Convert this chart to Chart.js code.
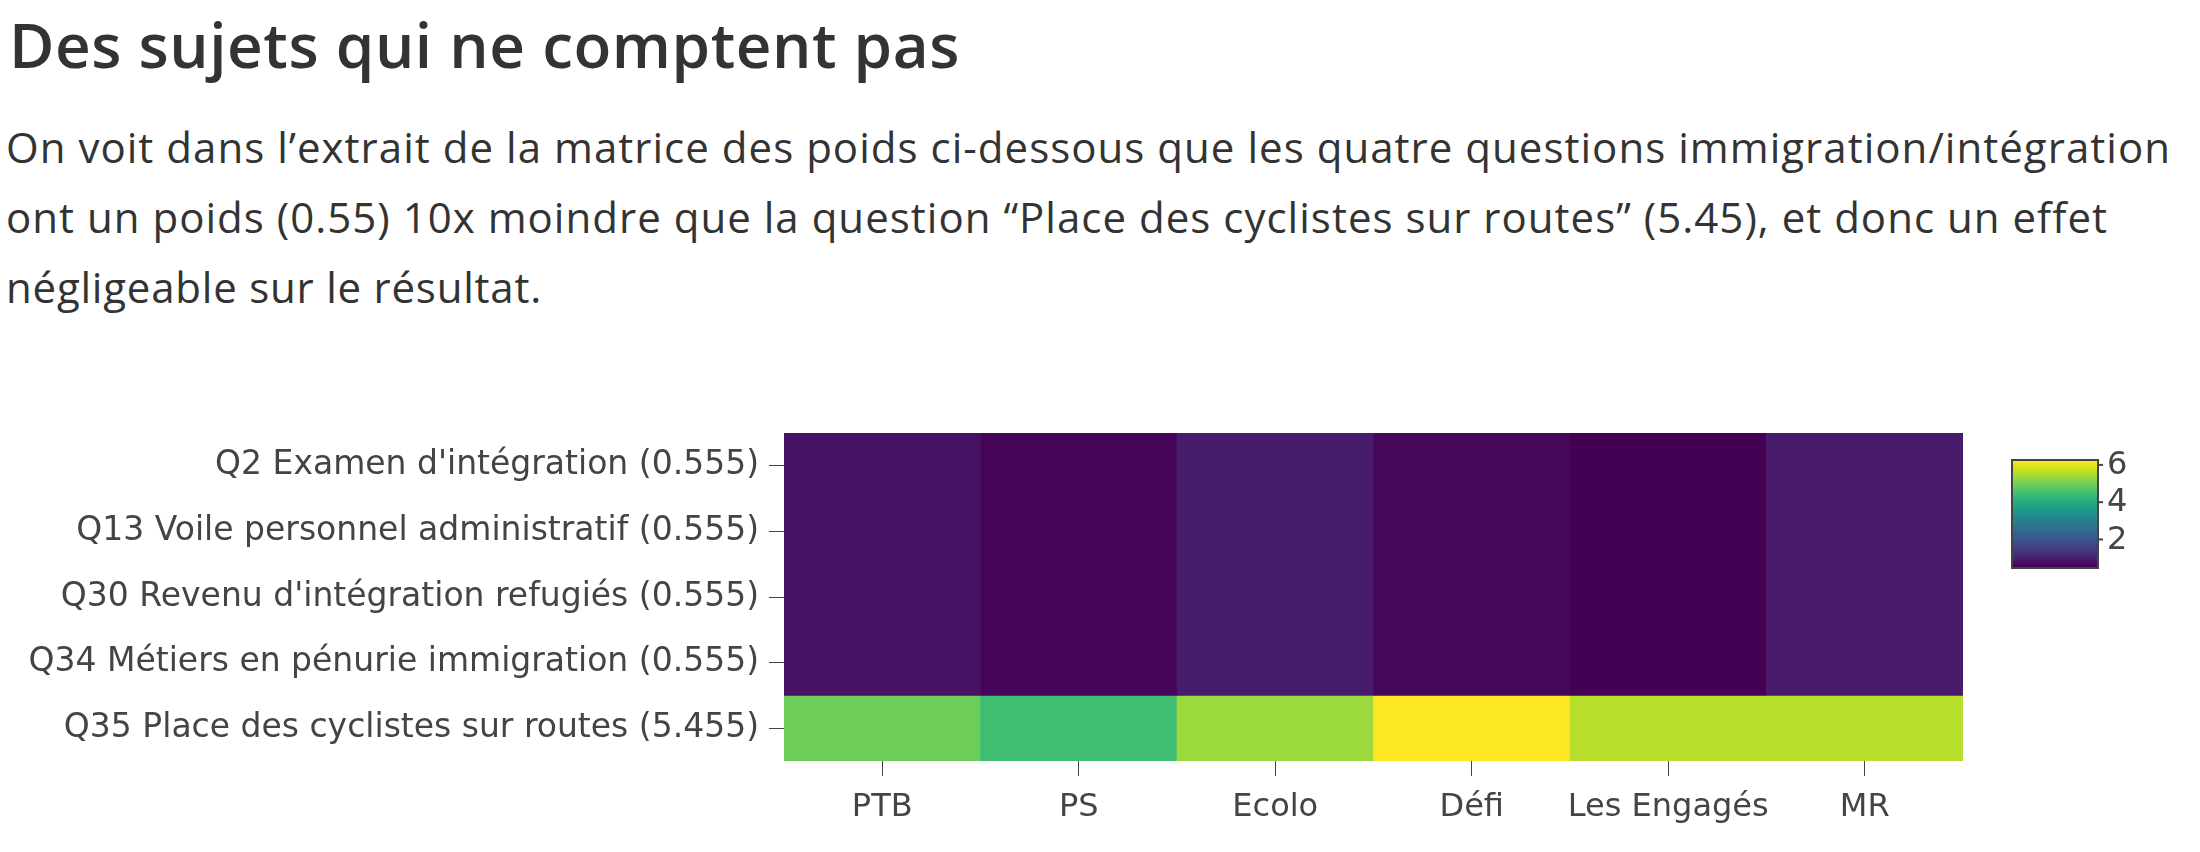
<!DOCTYPE html>
<html lang="fr">
<head>
<meta charset="utf-8">
<title>Des sujets qui ne comptent pas</title>
<script src="https://cdn.jsdelivr.net/npm/chart.js@4"></script>
<style>
  html, body { margin: 0; padding: 0; background: #fff; }
  body { width: 2200px; height: 852px; position: relative; overflow: hidden; color: #333; }
  #titre {
    position: absolute; left: 9px; top: 13px; margin: 0;
    font: 600 62px/62px "Open Sans", Lato, sans-serif; white-space: nowrap;
  }
  #texte {
    position: absolute; left: 6px; top: 112px; margin: 0;
    font: 400 42px/70px "Open Sans", Lato, sans-serif; white-space: nowrap;
  }
  #texte span { display: block; width: max-content; }
  #graphe { position: absolute; left: 0; top: 400px; width: 2200px; height: 452px; }
</style>
</head>
<body>
<h2 id="titre"><span>Des sujets qui ne comptent pas</span></h2>
<p id="texte"><span data-largeur="2165">On voit dans l’extrait de la matrice des poids ci-dessous que les quatre questions immigration/intégration</span><span data-largeur="2102">ont un poids (0.55) 10x moindre que la question “Place des cyclistes sur routes” (5.45), et donc un effet</span><span data-largeur="536">négligeable sur le résultat.</span></p>
<div id="graphe"><canvas id="heatmap"></canvas></div>

<script>
// --- Données ---
const partis = ['PTB', 'PS', 'Ecolo', 'Défi', 'Les Engagés', 'MR'];
const questions = [
  "Q2 Examen d'intégration (0.555)",
  "Q13 Voile personnel administratif (0.555)",
  "Q30 Revenu d'intégration refugiés (0.555)",
  "Q34 Métiers en pénurie immigration (0.555)",
  "Q35 Place des cyclistes sur routes (5.455)"
];
const q2  = [0.78, 0.58, 0.95, 0.62, 0.52, 0.93];
const q13 = [0.78, 0.58, 0.95, 0.62, 0.52, 0.93];
const q30 = [0.78, 0.58, 0.95, 0.62, 0.52, 0.93];
const q34 = [0.78, 0.58, 0.95, 0.62, 0.52, 0.93];
const q35 = [4.93, 4.45, 5.36, 6.21, 5.58, 5.58];
const lignes = [q2, q13, q30, q34, q35];
const ticksEchelle = [2, 4, 6];

// --- Ajuste l'espacement des lettres pour retrouver la largeur des lignes ---
function ajuster(el, cible) {
  el.style.letterSpacing = '0px';
  const w = el.getBoundingClientRect().width;
  el.style.letterSpacing = ((cible - w) / el.textContent.length) + 'px';
}
function ajusterTextes() {
  ajuster(document.querySelector('#titre span'), 951);
  document.querySelectorAll('#texte span').forEach(s => ajuster(s, +s.dataset.largeur));
}
ajusterTextes();
if (document.fonts) document.fonts.ready.then(ajusterTextes);

// --- Échelle viridis ---
const viridis = ['#440154', '#471365', '#482475', '#463480', '#414487', '#3b528b', '#355f8d',
  '#2f6c8e', '#2a788e', '#25848e', '#21918c', '#1e9c89', '#22a884', '#2fb47c', '#44bf70',
  '#5ec962', '#7ad151', '#9bd93c', '#bddf26', '#dfe318', '#fde725'];
const toutes = lignes.flat();
const zmin = Math.min(...toutes);
const zmax = Math.max(...toutes);

function hexRgb(h) {
  return [1, 3, 5].map(i => parseInt(h.slice(i, i + 2), 16));
}
function couleur(v) {
  const t = Math.max(0, Math.min(1, (v - zmin) / (zmax - zmin)));
  const p = t * (viridis.length - 1);
  const i = Math.min(Math.floor(p), viridis.length - 2);
  const f = p - i;
  const a = hexRgb(viridis[i]), b = hexRgb(viridis[i + 1]);
  const c = a.map((x, k) => Math.round(x + (b[k] - x) * f));
  return `rgb(${c[0]}, ${c[1]}, ${c[2]})`;
}

// la première question est en haut : rang 0 -> bande du haut
const nb = questions.length;
const datasets = lignes.map((valeurs, q) => {
  const bas = nb - 1 - q;
  return {
    label: questions[q],
    data: valeurs.map(() => [bas, bas + 1]),
    backgroundColor: valeurs.map(couleur),
    borderWidth: 0,
    grouped: false,
    barPercentage: 1,
    categoryPercentage: 1
  };
});

// --- Barre de couleur ---
const barreCouleur = {
  id: 'barreCouleur',
  afterDraw(chart) {
    const ctx = chart.ctx;
    const zone = chart.chartArea;
    const x = zone.right + 50, w = 84;
    const y = zone.top + 28, h = 106;
    const grad = ctx.createLinearGradient(0, y + h, 0, y);
    viridis.forEach((c, i) => grad.addColorStop(i / (viridis.length - 1), c));
    ctx.save();
    ctx.fillStyle = grad;
    ctx.fillRect(x, y, w, h);
    ctx.strokeStyle = '#444';
    ctx.lineWidth = 2;
    ctx.strokeRect(x - 1, y - 1, w + 2, h + 2);
    ctx.fillStyle = '#444';
    ctx.font = '32px "DejaVu Sans"';
    ctx.textBaseline = 'middle';
    ticksEchelle.forEach(v => {
      const ty = y + h - (v - zmin) / (zmax - zmin) * h;
      ctx.beginPath();
      ctx.moveTo(x + w + 1, ty);
      ctx.lineTo(x + w + 6, ty);
      ctx.stroke();
      ctx.fillText(String(v), x + w + 10, ty + 1);
    });
    ctx.restore();
  }
};

new Chart(document.getElementById('heatmap'), {
  type: 'bar',
  data: { labels: partis, datasets: datasets },
  plugins: [barreCouleur],
  options: {
    responsive: true,
    maintainAspectRatio: false,
    animation: false,
    layout: { padding: { top: 33, right: 237, bottom: 0, left: 0 } },
    plugins: { legend: { display: false }, tooltip: { enabled: false } },
    scales: {
      x: {
        offset: true,
        grid: { offset: false, drawOnChartArea: false, drawTicks: true, tickLength: 15, color: '#444' },
        border: { display: false },
        ticks: { color: '#444', font: { family: 'DejaVu Sans', size: 32 }, padding: 12, maxRotation: 0, autoSkip: false },
        afterFit(axe) { axe.height = 91; }
      },
      y: {
        type: 'linear',
        min: 0,
        max: nb,
        grid: { drawOnChartArea: false, drawTicks: true, tickLength: 15, color: '#444' },
        border: { display: false },
        afterBuildTicks(axe) {
          axe.ticks = questions.map((_, i) => ({ value: i + 0.5 }));
        },
        ticks: {
          color: '#444',
          font: { family: 'DejaVu Sans', size: 33 },
          padding: 10,
          autoSkip: false,
          callback: v => questions[nb - 1 - Math.floor(v)]
        },
        afterFit(axe) { axe.width = 784; }
      }
    }
  }
});
</script>
</body>
</html>
